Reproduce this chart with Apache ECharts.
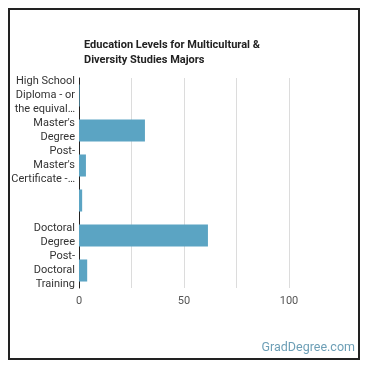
<!DOCTYPE html>
<html>
<head>
<meta charset="utf-8">
<script src="https://cdn.jsdelivr.net/npm/echarts@6/dist/echarts.min.js"></script>
<style>
    html, body { margin: 0; padding: 0; background: #fff; }
    #frame { position: absolute; left: 8px; top: 8px; width: 352px; height: 352px; border: 2px solid #222; box-sizing: border-box; }
    #bar-container { width: 370px; height: 370px; }
</style>
</head>
<body>
<div id="bar-container"></div>
<div id="frame"></div>
<script>
const categories = [
    'High School\nDiploma - or\nthe equival\u2026',
    "Master's\nDegree",
    "Post-\nMaster's\nCertificate -\u2026",
    '',
    'Doctoral\nDegree',
    'Post-\nDoctoral\nTraining'
];
const values = [0.3, 31.4, 3.3, 1.5, 61.4, 3.9];
const xTicks = [0, 50, 100];

const chartDom = document.getElementById('bar-container');
const myChart = echarts.init(chartDom, null, { renderer: 'canvas' });

const options = {
    animation: false,
    title: {
        text: 'Education Levels for Multicultural &\nDiversity Studies Majors',
        left: 79,
        top: 33,
        textStyle: {
            fontFamily: 'Roboto',
            fontSize: 11,
            fontWeight: 'bold',
            color: '#222',
            lineHeight: 15
        }
    },
    graphic: [{
        type: 'text',
        right: 15,
        bottom: 16,
        style: {
            text: 'GradDegree.com',
            font: '12.5px Roboto',
            fill: '#6d9fb6'
        }
    }],
    grid: { // plot area
        left: 79,
        right: 81,
        top: 78,
        bottom: 82,
        containLabel: false
    },
    xAxis: {
        type: 'value',
        min: 0,
        max: 100,
        interval: 25,
        axisLine: { show: false },
        axisTick: { show: false },
        splitLine: { lineStyle: { color: '#dcdcdc', width: 1 } },
        axisLabel: {
            fontFamily: 'Roboto',
            fontSize: 11,
            color: '#555',
            margin: 8,
            formatter: v => xTicks.includes(v) ? String(v) : ''
        }
    },
    yAxis: {
        type: 'category',
        inverse: true,
        data: categories,
        axisLine: { show: true, lineStyle: { color: '#222', width: 1 } },
        axisTick: { show: false },
        axisLabel: {
            fontFamily: 'Roboto',
            fontSize: 11,
            color: '#333',
            lineHeight: 14,
            margin: 4,
            align: 'right'
        }
    },
    series: [{
        type: 'bar',
        data: values,
        barWidth: '63%',
        itemStyle: { color: '#5ba4c3' }
    }]
};

myChart.setOption(options);
</script>
</body>
</html>
